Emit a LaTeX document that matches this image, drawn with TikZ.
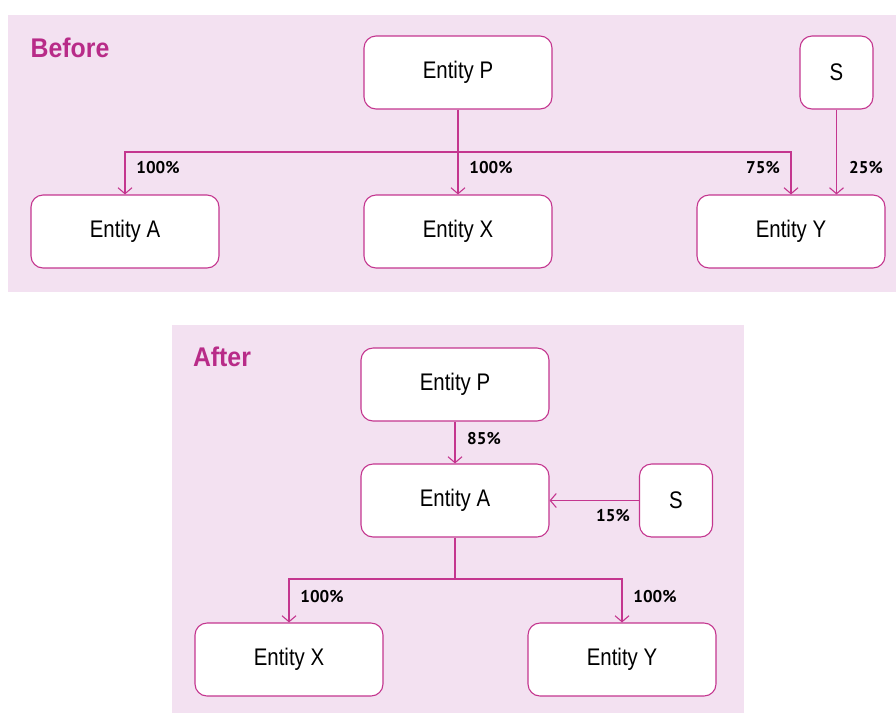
\documentclass[tikz,border=0pt]{standalone}
\usepackage{fontspec}
\setmainfont{PT Sans}
\newfontfamily\entfont{Liberation Sans}[FakeStretch=0.85]
\newfontfamily\ttlfont{Liberation Sans}[FakeStretch=0.92]
\usetikzlibrary{arrows.meta}
\definecolor{bgpink}{HTML}{F3E1F1}
\definecolor{mag}{HTML}{C4368F}
\definecolor{ttl}{HTML}{B82B88}
\tikzset{
  ent/.style={draw=mag, line width=1.1pt, fill=white, rounded corners=12pt, minimum width=188pt, minimum height=73pt, inner sep=0pt, font=\entfont\fontsize{24}{28}\selectfont},
  sbox/.style={ent, minimum width=73pt},
  link/.style={draw=mag, line width=1.1pt},
  arr/.style={link, -{Straight Barb[length=6pt,width=14pt,line width=1.1pt]}},
  pct/.style={font=\bfseries\fontsize{17}{19}\selectfont, inner sep=0pt},
  ttlf/.style={font=\ttlfont\bfseries\fontsize{27}{30}\selectfont, text=ttl, inner sep=0pt}
}
\begin{document}
\begin{tikzpicture}[x=1pt,y=-1pt]
\useasboundingbox (0,0) rectangle (896,713);
\fill[bgpink] (8,15) rectangle (896,292);
\fill[bgpink] (172,325) rectangle (744,713);
\node[ttlf] (tb) at (70,48) {Before};
\node[ttlf] (ta) at (222,357) {After};
% Before
\node[ent] (bP) at (458,72.5) {Entity P};
\node[sbox] (bS) at (836.5,72.5) {S};
\node[ent] (bA) at (125,231.5) {Entity A};
\node[ent] (bX) at (458,231.5) {Entity X};
\node[ent] (bY) at (791,231.5) {Entity Y};
\coordinate (bj) at (458,152);
\draw[arr] (bP.south) -- (bX.north);
\draw[arr] (bj) -| (bA.north);
\draw[arr] (bj) -| (bY.north);
\draw[arr] (bS.south) -- (bS.south |- bY.north);
\node[pct] (l1) at (158,168) {100\%};
\node[pct] (l2) at (491,168) {100\%};
\node[pct] (l3) at (763,168) {75\%};
\node[pct] (l4) at (866,168) {25\%};
% After
\node[ent] (aP) at (455,384.5) {Entity P};
\node[ent] (aA) at (455,500.5) {Entity A};
\node[sbox] (aS) at (676,500.5) {S};
\node[ent] (aX) at (289,659.5) {Entity X};
\node[ent] (aY) at (622,659.5) {Entity Y};
\coordinate (aj) at (455,579);
\draw[arr] (aP.south) -- (aA.north);
\draw[arr] (aS.west) -- (aA.east);
\draw[link] (aA.south) -- (aj);
\draw[arr] (aj) -| (aX.north);
\draw[arr] (aj) -| (aY.north);
\node[pct] (m1) at (484,439) {85\%};
\node[pct] (m2) at (613,516) {15\%};
\node[pct] (m3) at (322,597) {100\%};
\node[pct] (m4) at (655,597) {100\%};
\end{tikzpicture}
\end{document}
